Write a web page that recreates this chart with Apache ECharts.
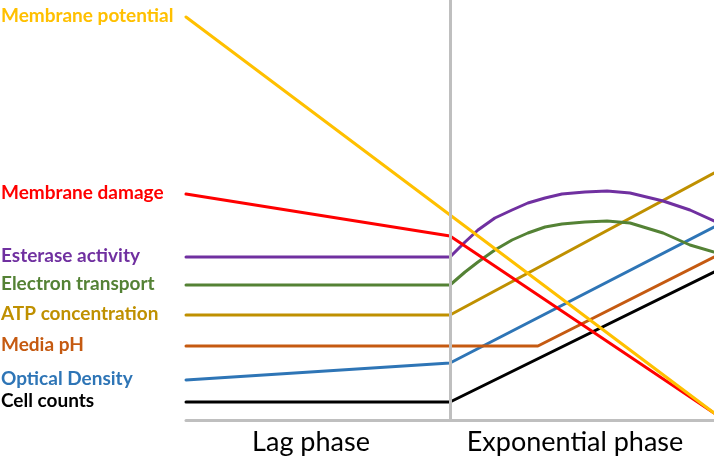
<!DOCTYPE html>
<html><head><meta charset="utf-8">
<script src="https://cdn.jsdelivr.net/npm/echarts@6/dist/echarts.min.js"></script>
<style>html,body{margin:0;padding:0;background:#fff}#c{width:714px;height:462px}</style>
</head><body><div id="c"></div>
<script>
// x: 0 = start of lag phase, 1 = end of lag phase, 2 = end of exponential phase
var phases = ['Lag phase', 'Exponential phase'];
var membranePotential = [[0, 403], [2, 7]];
var membraneDamage = [[0, 226], [1, 184], [2, 7]];
var esteraseFlat = [[0, 163], [1, 163]];
var esteraseCurve = [[1, 163], [1.057, 178], [1.106, 190], [1.170, 202], [1.235, 210], [1.295, 217], [1.360, 222], [1.424, 226], [1.511, 228], [1.595, 229], [1.682, 227], [1.807, 219], [1.909, 210], [2, 199]];
var electronFlat = [[0, 135], [1, 135]];
var electronCurve = [[1, 135], [1.057, 148], [1.106, 158], [1.170, 170], [1.235, 180], [1.295, 187], [1.360, 193], [1.424, 196], [1.511, 198], [1.595, 199], [1.682, 197], [1.807, 187], [1.909, 175], [2, 168]];
var atp = [[0, 105], [1, 105], [2, 247]];
var mediaPH = [[0, 74], [1.333, 74], [2, 163]];
var opticalDensity = [[0, 40], [1, 57], [2, 193]];
var cellCounts = [[0, 18], [1, 18], [2, 148]];

var names = ['Membrane potential', 'Membrane damage', 'Esterase activity', 'Electron transport', 'ATP concentration', 'Media pH', 'Optical Density', 'Cell counts'];
var colors = ['#FFC000', '#FF0000', '#7030A0', '#548235', '#BF9000', '#C55A11', '#2E75B6', '#000000'];
var firstPts = [membranePotential[0], membraneDamage[0], esteraseFlat[0], electronFlat[0], atp[0], mediaPH[0], opticalDensity[0], cellCounts[0]];

function line(name, data, color, z) {
  return {name: name, type: 'line', data: data, smooth: false, showSymbol: false, symbol: 'none',
    lineStyle: {color: color, width: 3, join: 'round', cap: 'round'}, itemStyle: {color: color}, z: z || 2, clip: false, animation: false};
}

var chart = echarts.init(document.getElementById('c'));
var series = [
  line(names[7], cellCounts, colors[7]),
  line(names[6], opticalDensity, colors[6]),
  line(names[5], mediaPH, colors[5]),
  line(names[4], atp, colors[4]),
  line(names[3], electronFlat.concat(electronCurve.slice(1)), colors[3]),
  line(names[2], esteraseFlat.concat(esteraseCurve.slice(1)), colors[2]),
  line(names[1], membraneDamage, colors[1], 3),
  line(names[0], membranePotential, colors[0], 4)
];
series[0].markLine = {silent: true, symbol: 'none', label: {show: false},
  lineStyle: {color: '#BFBFBF', width: 3, type: 'solid'}, data: [{xAxis: 1}], animation: false};

chart.setOption({
  animation: false,
  grid: {left: 186, right: 0, top: 0, bottom: 42},
  xAxis: [
    {type: 'value', min: 0, max: 2, show: false},
    {type: 'category', data: phases, position: 'bottom', boundaryGap: true,
      axisLine: {show: true, lineStyle: {color: '#BFBFBF', width: 3}},
      axisTick: {show: false}, splitLine: {show: false},
      axisLabel: {color: '#000', fontFamily: 'Lato', fontSize: 27, margin: 9, interval: 0, hideOverlap: false, padding: [0, 14, 0, 0]}}
  ],
  yAxis: {type: 'value', min: 0, max: 420, show: false},
  series: series
});

var texts = names.map(function (n, i) {
  var p = chart.convertToPixel({xAxisIndex: 0, yAxisIndex: 0}, firstPts[i]);
  return {type: 'text', left: 1, top: p[1] - 11,
    style: {text: n, fill: colors[i], font: 'bold 19px Lato', textVerticalAlign: 'top'}};
});
chart.setOption({graphic: texts});
</script></body></html>
